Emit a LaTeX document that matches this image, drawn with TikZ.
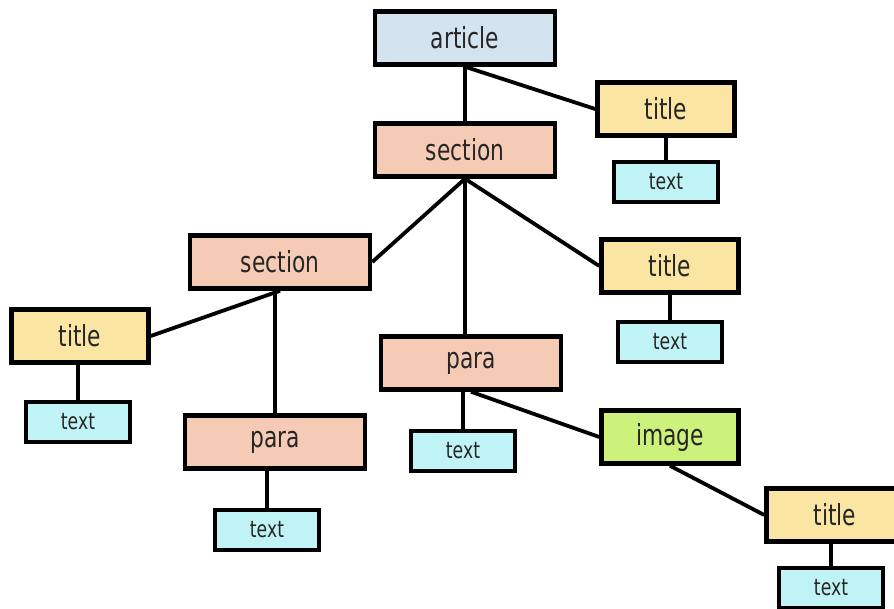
\documentclass[tikz,border=0pt]{standalone}
\usepackage{fontspec}
\newfontfamily\boxfont{DejaVu Sans}[FakeStretch=0.75]
\definecolor{rootblue}{HTML}{D3E3EF}
\definecolor{salmon}{HTML}{F5CBB6}
\definecolor{titleyel}{HTML}{FAE5A3}
\definecolor{textcyan}{HTML}{C0F3F5}
\definecolor{imggreen}{HTML}{CDF27C}
\begin{document}
\begin{tikzpicture}[x=1pt, y=-1pt,
  elem/.style={draw=black, line width=4.5pt, rectangle, inner sep=0pt,
    minimum width=180pt, minimum height=53pt, text=black!85,
    font=\boxfont\fontsize{29}{32}\selectfont},
  small/.style={elem, minimum width=137pt},
  leaf/.style={elem, line width=4pt, minimum width=104pt, minimum height=40pt,
    fill=textcyan, font=\boxfont\fontsize{23}{26}\selectfont},
  link/.style={line width=3.8pt}
]
\useasboundingbox (0,0) rectangle (894,609);

\node[elem, fill=rootblue]  (art)  at (465,38)  {article};
\node[elem, fill=salmon]    (sec1) at (465,150) {section};
\node[elem, fill=salmon]    (sec2) at (280,262) {section};
\node[elem, fill=salmon]    (par1) at (275,442) {para};
\node[elem, fill=salmon]    (par2) at (471,363) {para};

\node[small, fill=titleyel] (tit1) at (666,109) {title};
\node[small, fill=titleyel] (tit2) at (670,266) {title};
\node[small, fill=titleyel] (tit3) at (80,336)  {title};
\node[small, fill=titleyel] (tit4) at (835,515) {title};
\node[small, fill=imggreen] (img)  at (670,437) {image};

\node[leaf] (txt1) at (666,182) {text};
\node[leaf] (txt2) at (670,342) {text};
\node[leaf] (txt3) at (78,422)  {text};
\node[leaf] (txt4) at (267,530) {text};
\node[leaf] (txt5) at (463,451) {text};
\node[leaf] (txt6) at (831,588) {text};

\draw[link] (art.south) -- (sec1.north);
\draw[link] (art.south) -- (tit1.west);
\draw[link] (tit1.south) -- (txt1.north);
\draw[link] (sec1.south) -- (sec2.east);
\draw[link] (sec1.south) -- (sec1.south |- par2.north);
\draw[link] (sec1.south) -- (tit2.west);
\draw[link] (tit2.south) -- (txt2.north);
\draw[link] (sec2.south) -- (tit3.east);
\draw[link] (sec2.south -| par1.north) -- (par1.north);
\draw[link] (tit3.south -| txt3.north) -- (txt3.north);
\draw[link] (par1.south -| txt4.north) -- (txt4.north);
\draw[link] (par2.south -| txt5.north) -- (txt5.north);
\draw[link] (par2.south) -- (img.west);
\draw[link] (img.south) -- (tit4.west);
\draw[link] (tit4.south -| txt6.north) -- (txt6.north);
\end{tikzpicture}
\end{document}
